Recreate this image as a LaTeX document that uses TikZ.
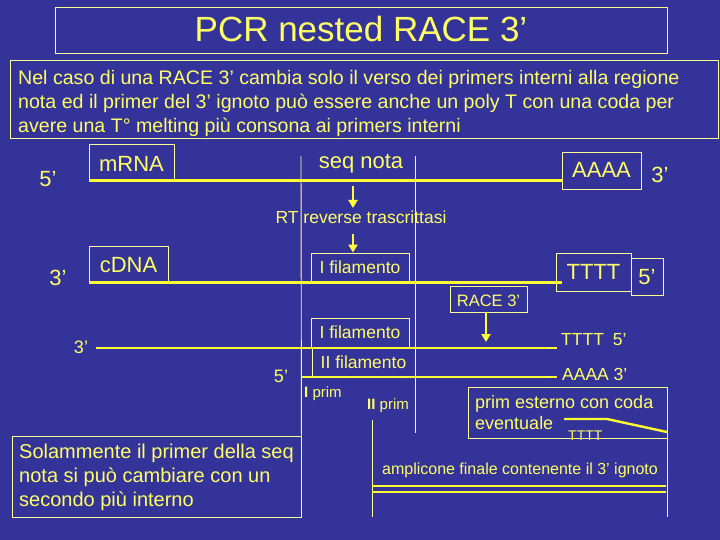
\documentclass[tikz,border=0pt]{standalone}
\usepackage{fontspec}
\setmainfont{Liberation Sans}
\usetikzlibrary{arrows.meta}
\definecolor{bgblue}{RGB}{51,51,153}
\definecolor{ytext}{RGB}{255,255,102}
\definecolor{yline}{RGB}{255,255,51}
\definecolor{ythin}{RGB}{255,255,150}
\tikzset{
  fs/.style={font=\fontsize{#1}{24}\selectfont},
  lbl/.style={text=ytext, inner sep=0pt},
  boxed/.style={draw=ythin, line width=0.9pt, text=ytext, inner sep=0pt},
  strand/.style={draw=yline, line width=2.7pt},
  thinline/.style={draw=ythin, line width=0.9pt},
  arr/.style={draw=yline, line width=2.6pt, -{Triangle[width=9pt,length=8pt]}},
}
\begin{document}
\begin{tikzpicture}[x=1pt,y=-1pt]
\fill[bgblue] (0,0) rectangle (720,540);
\useasboundingbox (0,0) rectangle (720,540);

% title and explanation
\node[boxed, fs=35, anchor=base, minimum width=612pt, text height=35pt, text depth=11pt] (title) at (361,42) {PCR nested RACE 3’};
\node[boxed, minimum width=708pt, minimum height=78pt] (topbox) at (364,99) {};
\node[lbl, fs=19.6, anchor=base west] (t1) at (18,85) {Nel caso di una RACE 3’ cambia solo il verso dei primers interni alla regione};
\node[lbl, fs=19.6, anchor=base west] (t2) at (18,109) {nota ed il primer del 3’ ignoto può essere anche un poly T con una coda per};
\node[lbl, fs=19.6, anchor=base west] (t3) at (18,133) {avere una T° melting più consona ai primers interni};

% vertical guide lines
\coordinate (v1t) at (301,156);
\coordinate (v2t) at (415,156);
\coordinate (v2b) at (415,433);

% mRNA
\node[boxed, fs=22, anchor=base, minimum width=85pt, text height=28pt, text depth=7pt] (mrna) at (131.5,172) {mRNA};
\node[boxed, fs=22, anchor=base, minimum width=79pt, text height=26pt, text depth=11pt] (aaaa) at (601.5,178) {AAAA};
\node[lbl, fs=22, anchor=base] (m5) at (48,187) {5’};
\node[lbl, fs=22, anchor=base] (seq) at (361,168.5) {seq nota};
\node[lbl, fs=22, anchor=base] (m3) at (660,183) {3’};
\coordinate (ms) at (89,180.5);
\draw[strand] (ms) -- (ms -| aaaa.west);

% RT
\node[lbl, fs=17.5, anchor=base] (rt) at (361,224) {RT reverse trascrittasi};
\coordinate (a1s) at (353,186);
\coordinate (a1e) at (353,208);
\coordinate (a2s) at (353,234);

% cDNA
\node[boxed, fs=22, anchor=base, minimum width=79pt, text height=26pt, text depth=10pt] (cdna) at (128.5,272) {cDNA};
\node[boxed, fs=17.5, anchor=base, minimum width=98pt, text height=20pt, text depth=9pt] (ifil1) at (360,273) {I filamento};
\node[boxed, fs=22, anchor=base, minimum width=75pt, text height=26pt, text depth=12pt] (tttt) at (593.5,279) {TTTT};
\node[boxed, fs=22, anchor=base, minimum width=32pt, text height=26pt, text depth=11pt] (c5) at (647,284) {5’};
\node[lbl, fs=22, anchor=base] (c3) at (58,285) {3’};
\coordinate (cs) at (89,282.5);
\coordinate (ce) at (562,282.5);
\draw[strand] (cs) -- (ce);

% RACE 3'
\node[boxed, fs=16.5, anchor=base, minimum width=77pt, text height=20pt, text depth=6pt] (race) at (488.5,306) {RACE 3’};
\coordinate (a3e) at (486,342);

% double strand
\node[boxed, fs=17.5, anchor=base, minimum width=98pt, text height=20pt, text depth=10pt] (ifil2) at (360,338) {I filamento};
\node[boxed, fs=17.5, anchor=base, minimum width=103pt, text height=20pt, text depth=9pt] (iifil) at (363.5,368) {II filamento};
\node[lbl, fs=18, anchor=base] (d3) at (81,353) {3’};
\node[lbl, fs=17.5, anchor=base west] (dt) at (561,345) {TTTT\hspace{9pt}5’};
\node[lbl, fs=18, anchor=base] (d5) at (281,382) {5’};
\node[lbl, fs=17.5, anchor=base west] (da) at (562,380) {AAAA 3’};
\coordinate (s1s) at (96,348);
\coordinate (s1e) at (557,348);
\coordinate (s2s) at (301,377);
\coordinate (s2e) at (557,377);

% primers
\node[lbl, fs=15, anchor=base west] (p1) at (304,397) {\textbf{I} prim};
\node[lbl, fs=15, anchor=base west] (p2) at (367,409) {\textbf{II} prim};

% outer primer box
\node[boxed, minimum width=199pt, minimum height=51pt] (primbox) at (567.5,412.5) {};
\node[lbl, fs=18, anchor=base west] (pe1) at (475,408) {prim esterno con coda};
\node[lbl, fs=18, anchor=base west] (pe2) at (475,429) {eventuale};
\node[lbl, fs=14, anchor=base west] (pt) at (568,440) {TTTT};
\coordinate (tl1) at (564,419);
\coordinate (tl2) at (607,419);
\coordinate (tl3) at (667,432);

% amplicon
\node[lbl, fs=16, anchor=base] (amp) at (520,474) {amplicone finale contenente il 3’ ignoto};
\coordinate (al1) at (372,420);
\coordinate (al2) at (372,517);
\coordinate (ar1) at (667,438);
\coordinate (ar2) at (667,517);
\coordinate (d1s) at (372,486);
\coordinate (d1e) at (666,486);
\coordinate (d2s) at (372,492);
\coordinate (d2e) at (666,492);

% note box
\node[boxed, minimum width=289pt, minimum height=81pt] (sol) at (156.5,476.5) {};
\node[lbl, fs=20, anchor=base west] (so1) at (19,458) {Solammente il primer della seq};
\node[lbl, fs=20, anchor=base west] (so2) at (19,482) {nota si può cambiare con un};
\node[lbl, fs=20, anchor=base west] (so3) at (19,506) {secondo più interno};

% lines
\draw[thinline] (v1t) -- (sol.north east);
\draw[thinline] (v2t) -- (v2b);
\draw[thinline] (al1) -- (al2);
\draw[thinline] (ar1) -- (ar2);
\draw[strand, line width=2.2pt] (s1s) -- (s1e);
\draw[strand, line width=2.2pt] (s2s) -- (s2e);
\draw[strand, line width=2.5pt] (d1s) -- (d1e);
\draw[strand, line width=2.5pt] (d2s) -- (d2e);
\draw[strand, line width=2.4pt] (tl1) -- (tl2) -- (tl3);

% arrows
\draw[arr] (a1s) -- (a1e);
\draw[arr] (a2s) -- (a2s |- ifil1.north);
\draw[arr] (race.south -| a3e) -- (a3e);
\end{tikzpicture}
\end{document}
